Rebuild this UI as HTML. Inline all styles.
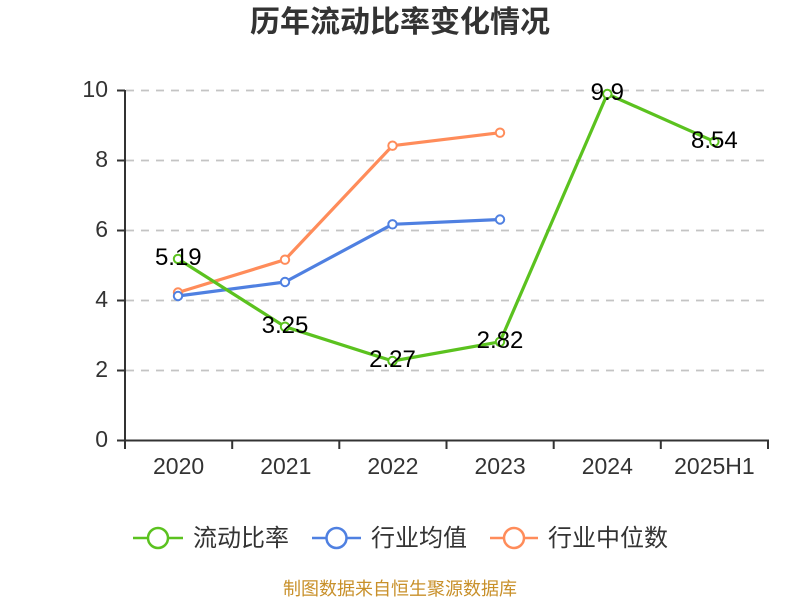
<!DOCTYPE html>
<html><head><meta charset="utf-8"><style>
html,body{margin:0;padding:0;background:#fff;}
svg{display:block;}
</style></head><body>
<svg width="800" height="600" viewBox="0 0 800 600" xmlns="http://www.w3.org/2000/svg">
<rect width="800" height="600" fill="#fff"/>
<text x="400" y="32" text-anchor="middle" font-family="'Liberation Sans','Noto Sans CJK SC',sans-serif" font-size="30" font-weight="bold" fill="#333">历年流动比率变化情况</text>
<g stroke="#c4c4c4" stroke-width="1.8" stroke-dasharray="8 7">
<line x1="126" y1="90.5" x2="768" y2="90.5"/>
<line x1="126" y1="160.5" x2="768" y2="160.5"/>
<line x1="126" y1="230.5" x2="768" y2="230.5"/>
<line x1="126" y1="300.5" x2="768" y2="300.5"/>
<line x1="126" y1="370.5" x2="768" y2="370.5"/>
</g>
<g stroke="#333" stroke-width="2" fill="none">
<line x1="125" y1="90" x2="125" y2="441"/>
<line x1="124" y1="440.5" x2="769" y2="440.5"/>
<line x1="117" y1="90.5" x2="125" y2="90.5"/>
<line x1="117" y1="160.5" x2="125" y2="160.5"/>
<line x1="117" y1="230.5" x2="125" y2="230.5"/>
<line x1="117" y1="300.5" x2="125" y2="300.5"/>
<line x1="117" y1="370.5" x2="125" y2="370.5"/>
<line x1="117" y1="440.5" x2="125" y2="440.5"/>
<line x1="125" y1="440" x2="125" y2="449"/>
<line x1="232.2" y1="440" x2="232.2" y2="449"/>
<line x1="339.3" y1="440" x2="339.3" y2="449"/>
<line x1="446.5" y1="440" x2="446.5" y2="449"/>
<line x1="553.7" y1="440" x2="553.7" y2="449"/>
<line x1="660.8" y1="440" x2="660.8" y2="449"/>
<line x1="768" y1="440" x2="768" y2="449"/>
</g>
<g font-family="'Liberation Sans',sans-serif" font-size="23" fill="#333" text-anchor="end">
<text x="108" y="97">10</text>
<text x="108" y="167">8</text>
<text x="108" y="237">6</text>
<text x="108" y="307">4</text>
<text x="108" y="377">2</text>
<text x="108" y="447">0</text>
</g>
<g font-family="'Liberation Sans',sans-serif" font-size="23" fill="#333" text-anchor="middle">
<text x="178.6" y="474">2020</text>
<text x="285.8" y="474">2021</text>
<text x="392.9" y="474">2022</text>
<text x="500.1" y="474">2023</text>
<text x="607.3" y="474">2024</text>
<text x="714.4" y="474">2025H1</text>
</g>
<!-- orange -->
<polyline fill="none" stroke="#ff8c5a" stroke-width="3.2" stroke-linejoin="round" points="178,292.5 285,259.7 392.5,145.7 500,132.7"/>
<g fill="#fff" stroke="#ff8c5a" stroke-width="2">
<circle cx="178" cy="292.5" r="4.2"/><circle cx="285" cy="259.7" r="4.2"/><circle cx="392.5" cy="145.7" r="4.2"/><circle cx="500" cy="132.7" r="4.2"/>
</g>
<!-- blue -->
<polyline fill="none" stroke="#4f80e1" stroke-width="3.2" stroke-linejoin="round" points="178,296 285,282 392.5,224.3 500,219.5"/>
<g fill="#fff" stroke="#4f80e1" stroke-width="2">
<circle cx="178" cy="296" r="4.2"/><circle cx="285" cy="282" r="4.2"/><circle cx="392.5" cy="224.3" r="4.2"/><circle cx="500" cy="219.5" r="4.2"/>
</g>
<!-- green -->
<polyline fill="none" stroke="#5bc21f" stroke-width="3.2" stroke-linejoin="round" points="178,258.9 285,326.7 392.5,361 500,341.8 607.3,94 714.4,141.6"/>
<g fill="#fff" stroke="#5bc21f" stroke-width="2">
<circle cx="178" cy="258.9" r="4.2"/><circle cx="285" cy="326.7" r="4.2"/><circle cx="392.5" cy="361" r="4.2"/><circle cx="500" cy="341.8" r="4.2"/><circle cx="607.3" cy="94" r="4.2"/><circle cx="714.4" cy="141.6" r="4.2"/>
</g>
<g font-family="'Liberation Sans',sans-serif" font-size="24" fill="#000" text-anchor="middle">
<text x="178.3" y="265">5.19</text>
<text x="285" y="333">3.25</text>
<text x="392.5" y="367">2.27</text>
<text x="500" y="348">2.82</text>
<text x="607.3" y="100">9.9</text>
<text x="714.4" y="148">8.54</text>
</g>
<!-- legend -->
<g fill="#fff" stroke-width="2.5">
<line x1="133" y1="538" x2="183" y2="538" stroke="#5bc21f"/>
<circle cx="158" cy="538" r="10" stroke="#5bc21f"/>
<line x1="312" y1="538" x2="361" y2="538" stroke="#4f80e1"/>
<circle cx="336.5" cy="538" r="10" stroke="#4f80e1"/>
<line x1="490" y1="538" x2="538" y2="538" stroke="#ff8c5a"/>
<circle cx="514" cy="538" r="10" stroke="#ff8c5a"/>
</g>
<g font-family="'Liberation Sans','Noto Sans CJK SC',sans-serif" font-size="24" fill="#333">
<text x="193" y="546">流动比率</text>
<text x="371" y="546">行业均值</text>
<text x="548" y="546">行业中位数</text>
</g>
<text x="400" y="595" text-anchor="middle" font-family="'Liberation Sans','Noto Sans CJK SC',sans-serif" font-size="18" fill="#c8902a">制图数据来自恒生聚源数据库</text>
</svg>
</body></html>
